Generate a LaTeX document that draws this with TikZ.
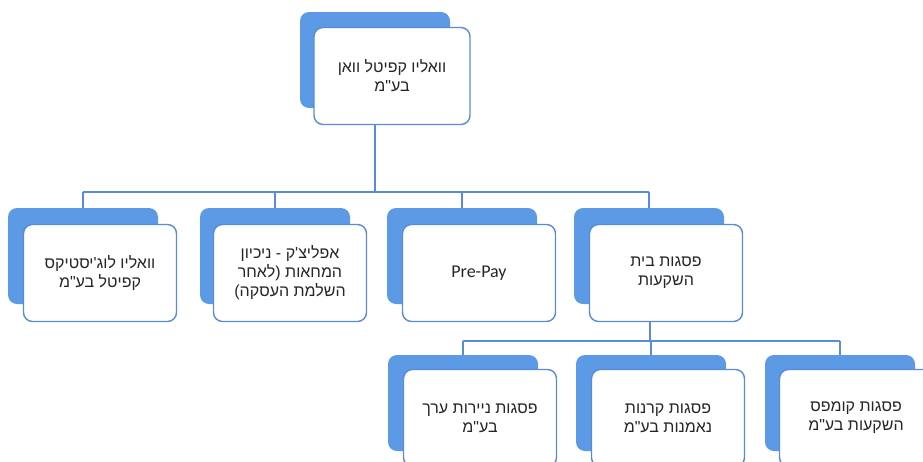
\documentclass[tikz,border=0pt]{standalone}
\usepackage{fontspec}
\newfontfamily\hebfont[Script=Hebrew]{Liberation Sans}
\newfontfamily\latfont{Carlito}
\TeXXeTstate=1
\definecolor{boxblue}{RGB}{92,154,230}
\definecolor{lineblue}{RGB}{88,140,218}

\begin{document}
\begin{tikzpicture}[x=1pt,y=-1pt,
  back/.style={fill=boxblue,rounded corners=9pt,minimum width=150pt,minimum height=96pt,inner sep=0pt},
  front/.style={fill=white,draw=lineblue,line width=1.4pt,rounded corners=9pt,minimum width=153pt,minimum height=97pt,inner sep=0pt,align=center,text=black!85,font=\hebfont\fontsize{16}{19}\selectfont},
  link/.style={draw=lineblue,line width=1.5pt}]
\useasboundingbox (0,0) rectangle (923,461);
\clip (0,0) rectangle (923,461);

\node[back] (topB) at (375,60) {};
\node[front,minimum width=156pt] (top) at (392,76) {\beginR וואליו קפיטל וואן\endR\\\beginR בע"מ\endR};

\node[back] (logB) at (83,256) {};
\node[back] (checkB) at (275,256) {};
\node[back] (prepayB) at (462,256) {};
\node[back] (psagotB) at (649,256) {};
\node[front] (log) at (100,273) {\beginR וואליו לוג\textquotesingle יסטיקס\endR\\\beginR קפיטל בע"מ\endR};
\node[front] (check) at (290,273) {\beginR אפליצ\textquotesingle ק - ניכיון\endR\\\beginR המחאות (לאחר\endR\\\beginR השלמת העסקה)\endR};
\node[front,font=\latfont\fontsize{18}{21}\selectfont] (prepay) at (479,273) {Pre-Pay};
\node[front] (psagot) at (666,273) {\beginR פסגות בית\endR\\\beginR השקעות\endR};

\node[back] (niyarotB) at (463,403) {};
\node[back] (kranotB) at (651,403) {};
\node[back] (compassB) at (840,403) {};
\node[front] (niyarot) at (480,418) {\beginR פסגות ניירות ערך\endR\\\beginR בע"מ\endR};
\node[front] (kranot) at (668,418) {\beginR פסגות קרנות\endR\\\beginR נאמנות בע"מ\endR};
\node[front] (compass) at (856,418) {\beginR פסגות קומפס\endR\\\beginR השקעות בע"מ\endR};

\coordinate (j1) at (375,192);
\coordinate (j2) at (650,341);
\draw[link] (topB |- top.south) -- (j1);
\draw[link] (logB |- j1) -- (psagotB |- j1);
\foreach \n in {logB,checkB,prepayB,psagotB}
  \draw[link] (\n |- j1) -- (\n.north);
\draw[link] (j2 |- psagot.south) -- (j2);
\draw[link] (niyarotB |- j2) -- (compassB |- j2);
\foreach \n in {niyarotB,kranotB,compassB}
  \draw[link] (\n |- j2) -- (\n.north);
\end{tikzpicture}
\end{document}
